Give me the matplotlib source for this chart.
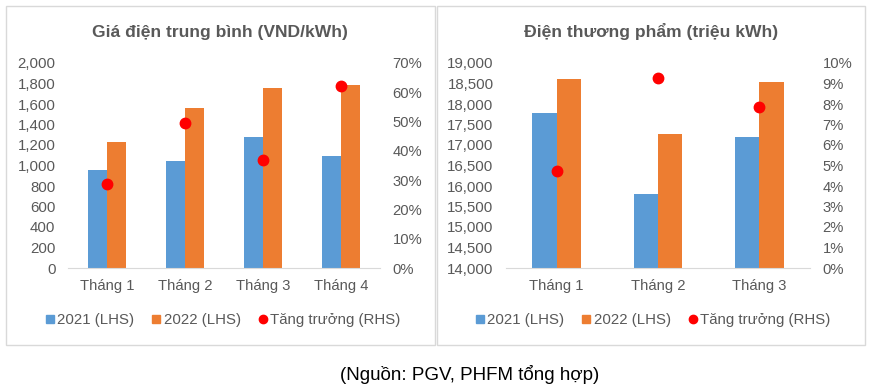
import matplotlib
matplotlib.use("Agg")
import matplotlib.pyplot as plt
import numpy as np
from matplotlib.lines import Line2D
from matplotlib.patches import Rectangle

plt.rcParams['font.family'] = ['Liberation Sans', 'DejaVu Sans']

# data
priceMonths = ['Tháng 1', 'Tháng 2', 'Tháng 3', 'Tháng 4']
price2021 = [956, 1044, 1277, 1092]
price2022 = [1228, 1559, 1754, 1783]
priceGrowth = [0.286, 0.494, 0.368, 0.622]

volMonths = ['Tháng 1', 'Tháng 2', 'Tháng 3']
vol2021 = [17776, 15807, 17193]
vol2022 = [18603, 17266, 18530]
volGrowth = [0.0472, 0.0929, 0.0786]

BLUE = '#5B9BD5'
ORANGE = '#ED7D31'
RED = '#FF0000'
TXT = '#595959'
GRID = '#D9D9D9'

W, H = 873, 389
fig = plt.figure(figsize=(W / 100, H / 100), dpi=100)


def px(x0, y0, x1, y1):
    return [x0 / W, 1 - y1 / H, (x1 - x0) / W, (y1 - y0) / H]


def drawPanel(rect, months, a, b, growth, ylim, ystep, rlim, rstep, rfmt):
    ax = fig.add_axes(rect)
    x = np.arange(len(months))
    bw = 0.24
    ax.bar(x - bw / 2, a, bw, color=BLUE, zorder=2)
    ax.bar(x + bw / 2, b, bw, color=ORANGE, zorder=2)
    ax.set_xlim(-0.5, len(months) - 0.5)
    ax.set_ylim(*ylim)
    ax.set_yticks(np.arange(ylim[0], ylim[1] + 1, ystep))
    ax.yaxis.set_major_formatter(matplotlib.ticker.FuncFormatter(lambda v, p: f'{v:,.0f}'))
    ax.set_xticks(x)
    ax.set_xticklabels(months)
    for s in ['top', 'left', 'right']:
        ax.spines[s].set_visible(False)
    ax.spines['bottom'].set_color(GRID)
    ax.tick_params(axis='y', length=0, pad=9, labelsize=10.8, labelcolor=TXT)
    ax.tick_params(axis='x', length=0, pad=8, labelsize=10.6, labelcolor=TXT)

    ax2 = ax.twinx()
    ax2.plot(x, growth, 'o', color=RED, markersize=7.5, zorder=3)
    ax2.set_ylim(*rlim)
    ax2.set_yticks(np.arange(rlim[0], rlim[1] + rstep / 2, rstep))
    ax2.yaxis.set_major_formatter(matplotlib.ticker.FuncFormatter(lambda v, p: rfmt.format(v * 100)))
    for s in ['top', 'left', 'right', 'bottom']:
        ax2.spines[s].set_visible(False)
    ax2.tick_params(axis='y', length=0, pad=9, labelsize=10.6, labelcolor=TXT)
    return ax


drawPanel(px(68, 63, 380, 268), priceMonths, price2021, price2022, priceGrowth,
          (0, 2000), 200, (0, 0.70), 0.10, '{:.0f}%')
drawPanel(px(506, 63, 810, 268), volMonths, vol2021, vol2022, volGrowth,
          (14000, 19000), 500, (0, 0.10), 0.01, '{:.0f}%')

# panel frames
for x0, x1 in [(6, 435), (437, 865)]:
    fig.patches.append(Rectangle((x0 / W, 1 - 345 / H), (x1 - x0) / W, (345 - 6) / H,
                                 transform=fig.transFigure, fill=False,
                                 edgecolor=GRID, linewidth=1))

fig.text(220 / W, 1 - 32 / H, 'Giá điện trung bình (VND/kWh)', ha='center', va='center',
         fontsize=12.6, fontweight='bold', color=TXT)
fig.text(651 / W, 1 - 32 / H, 'Điện thương phẩm (triệu kWh)', ha='center', va='center',
         fontsize=12.6, fontweight='bold', color=TXT)

handles = [Line2D([], [], marker='s', linestyle='none', color=BLUE, markersize=6),
           Line2D([], [], marker='s', linestyle='none', color=ORANGE, markersize=6),
           Line2D([], [], marker='o', linestyle='none', color=RED, markersize=6)]
labels = ['2021 (LHS)', '2022 (LHS)', 'Tăng trưởng (RHS)']
for cx in [223, 653]:
    fig.legend(handles, labels, loc='center', bbox_to_anchor=(cx / W, 1 - 320 / H),
               ncol=3, frameon=False, fontsize=10.8, labelcolor=TXT,
               handlelength=0.6, handletextpad=0.2, columnspacing=1.15)

fig.text(470 / W, 1 - 375 / H, '(Nguồn: PGV, PHFM tổng hợp)', ha='center', va='center',
         fontsize=13.5, color='black')

fig.savefig('out.png', dpi=100)
